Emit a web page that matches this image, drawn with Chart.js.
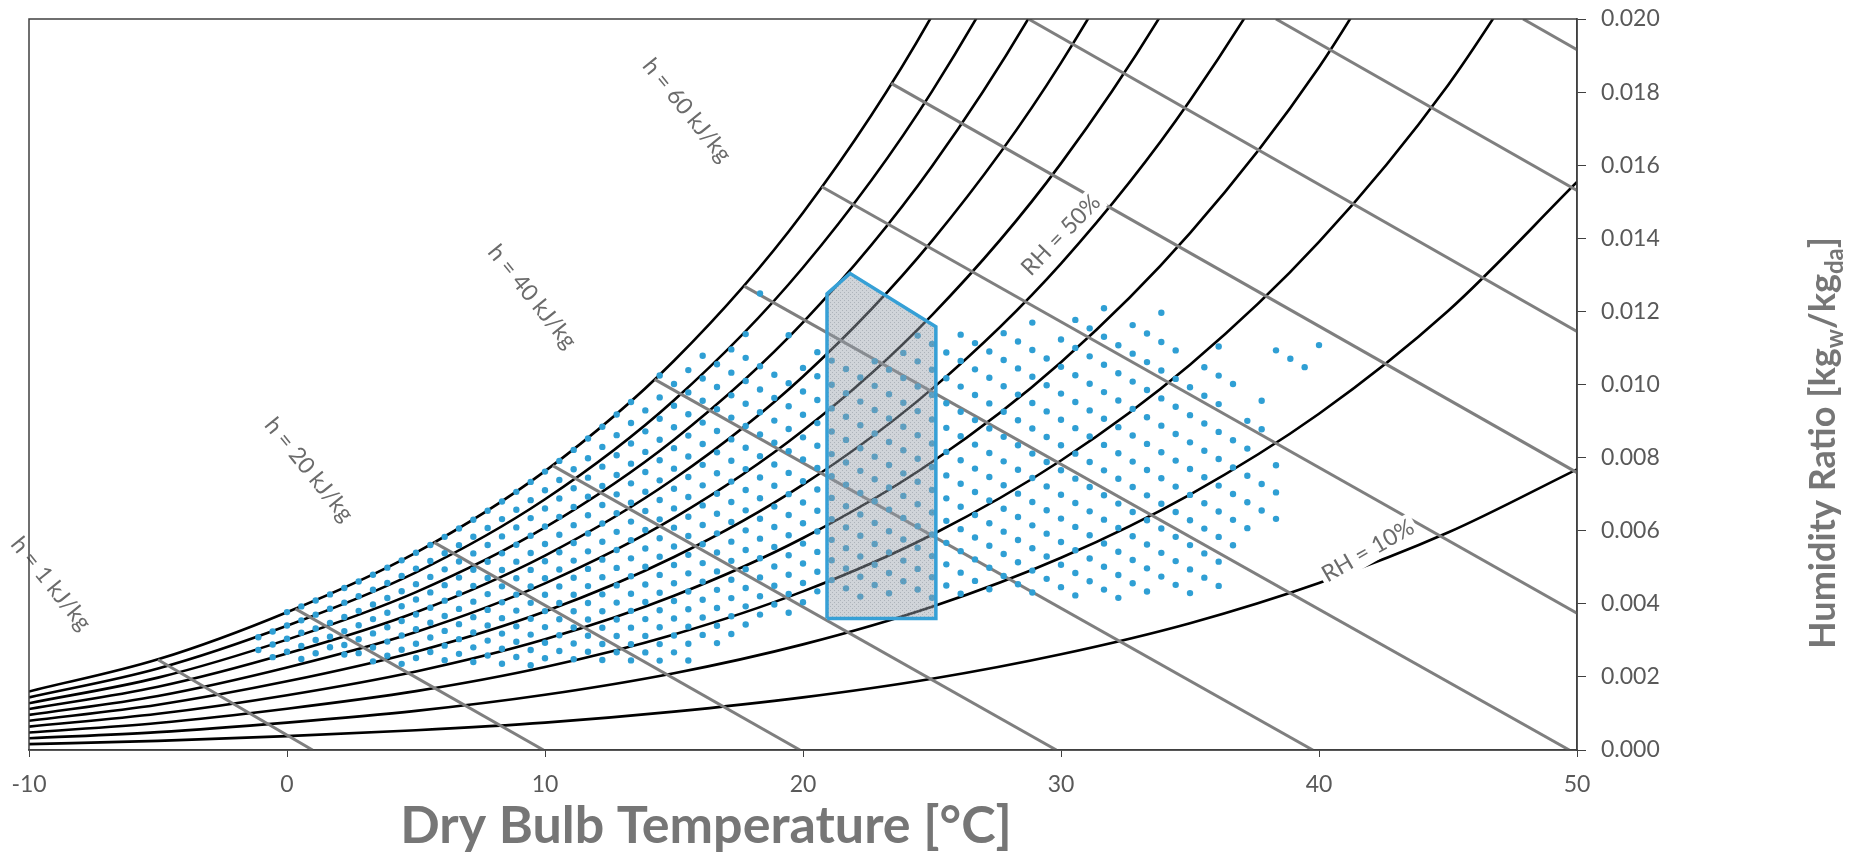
<!DOCTYPE html>
<html>
<head>
<meta charset="utf-8">
<script src="https://cdn.jsdelivr.net/npm/chart.js@4.4.1/dist/chart.umd.min.js"></script>
<style>
html, body { margin: 0; padding: 0; background: #fff; }
</style>
</head>
<body>
<canvas id="psy" width="1862" height="853"></canvas>
<script>
// dry bulb temperatures of the RH curves (°C)
var tC = [-10, -5, 0, 5, 10, 15, 20, 25, 30, 35, 40, 45, 50];
// humidity ratio (kg/kg) of each RH curve at tC
var rh100 = [0.00160, 0.00248, 0.00377, 0.00540, 0.00763, 0.01065, 0.01470, 0.02009, 0.02721];
var rh90 = [0.00144, 0.00223, 0.00340, 0.00486, 0.00686, 0.00957, 0.01320, 0.01802, 0.02438, 0.03273];
var rh80 = [0.00128, 0.00198, 0.00302, 0.00432, 0.00609, 0.00849, 0.01170, 0.01597, 0.02158, 0.02893];
var rh70 = [0.00112, 0.00173, 0.00264, 0.00377, 0.00532, 0.00742, 0.01022, 0.01393, 0.01880, 0.02517, 0.03344];
var rh60 = [0.00096, 0.00148, 0.00226, 0.00323, 0.00456, 0.00635, 0.00874, 0.01190, 0.01605, 0.02145, 0.02844];
var rh50 = [0.00080, 0.00124, 0.00188, 0.00269, 0.00379, 0.00528, 0.00726, 0.00988, 0.01331, 0.01777, 0.02352, 0.03091];
var rh40 = [0.00064, 0.00099, 0.00150, 0.00215, 0.00303, 0.00422, 0.00580, 0.00788, 0.01061, 0.01414, 0.01868, 0.02449];
var rh30 = [0.00048, 0.00074, 0.00113, 0.00161, 0.00227, 0.00316, 0.00434, 0.00589, 0.00792, 0.01054, 0.01390, 0.01819, 0.02361];
var rh20 = [0.00032, 0.00049, 0.00075, 0.00107, 0.00151, 0.00210, 0.00289, 0.00392, 0.00526, 0.00699, 0.00920, 0.01201, 0.01554];
var rh10 = [0.00016, 0.00025, 0.00038, 0.00054, 0.00075, 0.00105, 0.00144, 0.00195, 0.00262, 0.00347, 0.00457, 0.00595, 0.00768];
var rhCurves = [rh100, rh90, rh80, rh70, rh60, rh50, rh40, rh30, rh20, rh10];

// enthalpy lines: start (on saturation / top edge) and end (bottom / right edge)
var hT0 = [-5.0, 0.33, 5.7, 10.3, 14.25, 17.72, 20.73, 23.42, 28.74, 38.33, 47.91];
var hW0 = [0.00247, 0.00386, 0.00568, 0.00778, 0.01014, 0.01269, 0.01541, 0.01824, 0.0200, 0.0200, 0.0200];
var hT1 = [0.99, 9.94, 19.88, 29.82, 39.76, 49.70, 50, 50, 50, 50, 50];
var hW1 = [0, 0, 0, 0, 0, 0, 0.00374, 0.00759, 0.01145, 0.01531, 0.01916];

// weather bins: dry bulb (°F) and the wet bulb (°F) range found in each
var dbF = [30,31,32,33,34,35,36,37,38,39,40,41,42,43,44,45,46,47,48,49,50,51,52,53,54,55,56,57,58,59,
           60,61,62,63,64,65,66,67,68,69,70,71,72,73,74,75,76,77,78,79,80,81,82,83,84,85,86,87,88,89,
           90,91,92,93,94,95,96,97,98,99,100,101,102,103,104];
var wbLo = [28,28,29,29,30,31,31,32,32,33,33,34,35,35,36,36,37,37,38,38,39,40,40,41,41,42,42,43,43,44,
            44,46,46,47,48,49,50,50,51,52,53,53,53,54,54,55,55,55,56,56,57,57,58,58,58,59,59,59,60,60,
            60,61,61,62,62,62,63,63,65,66,67,67,73,73,74];
var wbHi = [29,30,32,33,34,35,36,37,38,39,40,41,42,43,44,45,46,47,48,49,50,51,52,53,54,55,56,56,58,58,
            59,60,60,61,62,64,61,63,62,63,63,63,63,64,64,65,66,66,66,67,67,67,68,68,69,68,69,70,70,71,
            70,71,71,72,71,70,71,72,71,70,71,73,73,73,74];
// empty bins inside those ranges (dry bulb °F, wet bulb °F)
var gapDb = [65, 65, 67, 98, 100, 101, 101, 101];
var gapWb = [63, 62, 62, 70, 69, 72, 71, 70];

// comfort zone outline
var zoneT = [20.93, 20.93, 21.82, 25.15, 25.15, 20.93];
var zoneW = [0.0036, 0.01248, 0.01304, 0.01158, 0.0036, 0.0036];

// psychrometrics to place a (dry bulb, wet bulb) bin on the chart
function pws(t) {
  if (t < 0) return 0.61115 * Math.exp(22.452 * t / (272.55 + t));
  return 0.61094 * Math.exp(17.625 * t / (t + 243.04));
}
function humRatio(tdb, twb) {
  var p = pws(twb);
  var ws = 0.621945 * p / (101.325 - p);
  if (twb < 0) return ((2830 - 0.24 * twb) * ws - 1.006 * (tdb - twb)) / (2830 + 1.86 * tdb - 2.1 * twb);
  return ((2501 - 2.326 * twb) * ws - 1.006 * (tdb - twb)) / (2501 + 1.86 * tdb - 4.186 * twb);
}
function isGap(db, wb) {
  for (var g = 0; g < gapDb.length; g++) if (gapDb[g] === db && gapWb[g] === wb) return true;
  return false;
}

var dots = [];
for (var i = 0; i < dbF.length; i++) {
  for (var wb = wbLo[i]; wb <= wbHi[i]; wb++) {
    if (isGap(dbF[i], wb)) continue;
    var tdb = (dbF[i] - 32) / 1.8, twb = (wb - 32) / 1.8;
    dots.push({ x: tdb, y: humRatio(tdb, twb) });
  }
}

var datasets = [];
// comfort zone (drawn on top)
var pat = document.createElement('canvas');
pat.width = 4; pat.height = 4;
var pc = pat.getContext('2d');
pc.fillStyle = 'rgba(150,160,170,0.45)';
pc.fillRect(0, 0, 4, 4);
pc.fillStyle = 'rgba(110,120,130,0.35)';
pc.fillRect(0, 0, 1, 1); pc.fillRect(2, 2, 1, 1);
var zonePattern = pc.createPattern(pat, 'repeat');

datasets.push({
  data: zoneT.map(function (t, k) { return { x: t, y: zoneW[k] }; }),
  borderColor: '#36a0d6', borderWidth: 3.5, pointRadius: 0, tension: 0,
  fill: 'shape', backgroundColor: zonePattern, order: 0
});
datasets.push({
  data: dots, showLine: false, pointRadius: 3.2, pointBorderWidth: 0,
  pointBackgroundColor: '#2f9fd4', order: 1
});
for (var j = 0; j < hT0.length; j++) {
  datasets.push({
    data: [{ x: hT0[j], y: hW0[j] }, { x: hT1[j], y: hW1[j] }],
    borderColor: '#7f7f7f', borderWidth: 3, pointRadius: 0, tension: 0, clip: 0, order: 2
  });
}
rhCurves.forEach(function (c) {
  datasets.push({
    data: c.map(function (w, k) { return { x: tC[k], y: w }; }),
    borderColor: '#000', borderWidth: 2.6, pointRadius: 0,
    cubicInterpolationMode: 'monotone', clip: 0, order: 3
  });
});

// rotated labels on the chart
var notes = [
  { text: 'h = 1 kJ/kg', x: -9.15, y: 0.00455, a: 51, mask: false },
  { text: 'h = 20 kJ/kg', x: 0.85, y: 0.00767, a: 51, mask: false },
  { text: 'h = 40 kJ/kg', x: 9.5, y: 0.0124, a: 51, mask: false },
  { text: 'h = 60 kJ/kg', x: 15.5, y: 0.01750, a: 51, mask: false },
  { text: 'RH = 50%', x: 30.0, y: 0.01409, a: -46, mask: true },
  { text: 'RH = 10%', x: 41.9, y: 0.00545, a: -30, mask: true }
];

var notePlugin = {
  id: 'notes',
  afterDatasetsDraw: function (chart) {
    var ctx = chart.ctx, xs = chart.scales.x, ys = chart.scales.y;
    var ca = chart.chartArea;
    ctx.save();
    ctx.font = '23px Lato';
    ctx.textAlign = 'center';
    ctx.textBaseline = 'middle';
    notes.forEach(function (n) {
      ctx.save();
      ctx.translate(xs.getPixelForValue(n.x), ys.getPixelForValue(n.y));
      ctx.rotate(n.a * Math.PI / 180);
      var w = ctx.measureText(n.text).width;
      if (n.mask) {
        ctx.fillStyle = '#fff';
        ctx.fillRect(-w / 2 - 3, -13, w + 6, 26);
      }
      ctx.fillStyle = '#6b6b6b';
      ctx.fillText(n.text, 0, 0);
      ctx.restore();
    });
    ctx.restore();
    // plot frame
    ctx.save();
    ctx.strokeStyle = '#404040';
    ctx.lineWidth = 1.5;
    ctx.strokeRect(ca.left, ca.top, ca.right - ca.left, ca.bottom - ca.top);
    ctx.restore();
  }
};

var titlePlugin = {
  id: 'titles',
  afterDraw: function (chart) {
    var ctx = chart.ctx;
    ctx.save();
    ctx.fillStyle = '#767676';
    ctx.font = 'bold 52px Lato';
    ctx.textAlign = 'center';
    ctx.textBaseline = 'middle';
    ctx.fillText('Dry Bulb Temperature [°C]', 706, 826);
    var parts = [['Humidity Ratio [kg', 0], ['w', 1], ['/kg', 0], ['da', 1], [']', 0]];
    var big = 'bold 36px Lato', small = 'bold 24px Lato';
    var total = 0;
    parts.forEach(function (p) { ctx.font = p[1] ? small : big; total += ctx.measureText(p[0]).width; });
    ctx.translate(1822, 443);
    ctx.rotate(-Math.PI / 2);
    ctx.textAlign = 'left';
    ctx.textBaseline = 'alphabetic';
    var px = -total / 2;
    parts.forEach(function (p) {
      ctx.font = p[1] ? small : big;
      ctx.fillText(p[0], px, p[1] ? 21 : 13);
      px += ctx.measureText(p[0]).width;
    });
    ctx.restore();
  }
};

new Chart(document.getElementById('psy'), {
  type: 'line',
  data: { datasets: datasets },
  options: {
    responsive: false,
    animation: false,
    devicePixelRatio: 1,
    layout: { padding: { left: 29, top: 19, right: 0, bottom: 0 } },
    plugins: { legend: { display: false }, tooltip: { enabled: false } },
    scales: {
      x: {
        type: 'linear', min: -10, max: 50,
        ticks: { stepSize: 10, color: '#595959', font: { family: 'Lato', size: 23 }, padding: 14 },
        grid: { drawOnChartArea: false, drawTicks: true, tickLength: 7, color: '#404040' },
        border: { display: true, color: '#404040', width: 1.5 },
        afterFit: function (s) { s.height = 103; s.paddingLeft = 0; s.paddingRight = 0; }
      },
      y: {
        type: 'linear', position: 'right', min: 0, max: 0.02,
        ticks: {
          stepSize: 0.002, color: '#595959', font: { family: 'Lato', size: 23 }, padding: 15,
          callback: function (v) { return v.toFixed(3); }
        },
        grid: { drawOnChartArea: false, drawTicks: true, tickLength: 9, color: '#404040' },
        border: { display: true, color: '#404040', width: 1.5 },
        afterFit: function (s) { s.width = 285; s.paddingTop = 0; s.paddingBottom = 0; }
      }
    }
  },
  plugins: [notePlugin, titlePlugin]
});
</script>
</body>
</html>
